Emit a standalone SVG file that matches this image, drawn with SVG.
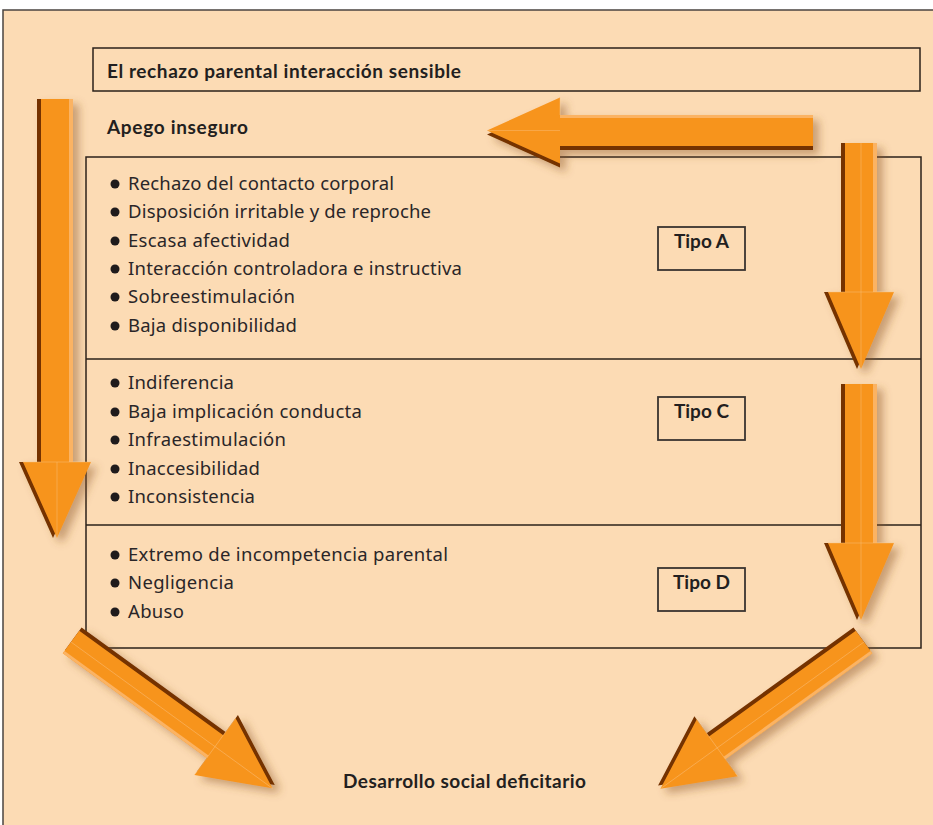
<svg xmlns="http://www.w3.org/2000/svg" width="933" height="825" viewBox="0 0 933 825">
<defs>
<style>
.frame{fill:#FCDBB4;stroke:#4a4440;stroke-width:1.5}
.box{fill:none;stroke:#2b221a;stroke-width:1.5}
.tbox{fill:none;stroke:#3a3430;stroke-width:1.8}
.t{font-family:"Noto Sans","DejaVu Sans",sans-serif;font-size:18.5px;fill:#2a2628;font-variant-ligatures:none}
.b{font-family:Lato,"Noto Sans",sans-serif;font-size:19px;font-weight:bold;fill:#231f20}
.dot{fill:#1f1b1c}
.ao{fill:#F7941E}
.ad{fill:#743300}
.al{fill:#FBB363}
.seam{stroke:#FBC27E;stroke-width:0.8;opacity:0.55;fill:none}
</style>
<filter id="sh" x="-40%" y="-20%" width="180%" height="140%">
<feDropShadow dx="6" dy="5" stdDeviation="4" flood-color="#8a5528" flood-opacity="0.45"/>
</filter>
</defs>
<rect x="0" y="0" width="933" height="825" fill="#ffffff"/>
<rect class="frame" x="3" y="10" width="940" height="830"/>

<g id="node-top">
<rect class="box" x="93" y="48" width="827" height="43"/>
<text class="b" x="107" y="78" textLength="354">El rechazo parental interacción sensible</text>
</g>
<g id="node-apego">
<text class="b" x="107" y="134" textLength="141">Apego inseguro</text>
</g>

<g id="node-main">
<rect class="box" x="86" y="157" width="835" height="491"/>
<line class="box" x1="86" y1="359" x2="921" y2="359"/>
<line class="box" x1="86" y1="525" x2="921" y2="525"/>
</g>

<g id="node-tipoA">
<circle class="dot" cx="115" cy="184" r="4.5"/><text class="t" x="128" y="190" textLength="266">Rechazo del contacto corporal</text>
<circle class="dot" cx="115" cy="212" r="4.5"/><text class="t" x="128" y="218" textLength="303">Disposición irritable y de reproche</text>
<circle class="dot" cx="115" cy="241" r="4.5"/><text class="t" x="128" y="247" textLength="162">Escasa afectividad</text>
<circle class="dot" cx="115" cy="269" r="4.5"/><text class="t" x="128" y="275" textLength="334">Interacción controladora e instructiva</text>
<circle class="dot" cx="115" cy="297" r="4.5"/><text class="t" x="128" y="303" textLength="167">Sobreestimulación</text>
<circle class="dot" cx="115" cy="326" r="4.5"/><text class="t" x="128" y="332" textLength="169">Baja disponibilidad</text>
<rect class="tbox" x="658" y="227" width="87" height="43"/>
<text class="b" x="701.5" y="248" text-anchor="middle">Tipo A</text>
</g>

<g id="node-tipoC">
<circle class="dot" cx="115" cy="383" r="4.5"/><text class="t" x="128" y="389" textLength="106">Indiferencia</text>
<circle class="dot" cx="115" cy="412" r="4.5"/><text class="t" x="128" y="418" textLength="234">Baja implicación conducta</text>
<circle class="dot" cx="115" cy="440" r="4.5"/><text class="t" x="128" y="446" textLength="158">Infraestimulación</text>
<circle class="dot" cx="115" cy="469" r="4.5"/><text class="t" x="128" y="475" textLength="132">Inaccesibilidad</text>
<circle class="dot" cx="115" cy="497" r="4.5"/><text class="t" x="128" y="503" textLength="127">Inconsistencia</text>
<rect class="tbox" x="658" y="397" width="87" height="43"/>
<text class="b" x="701.5" y="418" text-anchor="middle">Tipo C</text>
</g>

<g id="node-tipoD">
<circle class="dot" cx="115" cy="555" r="4.5"/><text class="t" x="128" y="561" textLength="320">Extremo de incompetencia parental</text>
<circle class="dot" cx="115" cy="583" r="4.5"/><text class="t" x="128" y="589" textLength="106">Negligencia</text>
<circle class="dot" cx="115" cy="612" r="4.5"/><text class="t" x="128" y="618" textLength="56">Abuso</text>
<rect class="tbox" x="658" y="568" width="87" height="43"/>
<text class="b" x="701.5" y="589" text-anchor="middle">Tipo D</text>
</g>

<g id="node-desarrollo">
<text class="b" x="464.5" y="788" text-anchor="middle" textLength="243">Desarrollo social deficitario</text>
</g>

<g id="connectors">
<g filter="url(#sh)">
<g id="arrow-left-down" transform="translate(57,99)">
<polygon class="ad" transform="translate(-4,0)" points="-16,0 16,0 16,363 34,363 0,439 -34,363 -16,363"/>
<polygon class="ao" points="-16,0 16,0 16,363 34,363 0,439 -34,363 -16,363"/>
<rect class="al" x="12" y="0" width="4" height="363"/>
<path class="seam" d="M-34,363 L34,363 M0,363 L0,439"/>
</g>
</g>
<g filter="url(#sh)">
<g id="arrow-top-left" transform="translate(813,130.5) rotate(90)">
<polygon class="ad" transform="translate(4,0)" points="-15.5,0 15.5,0 15.5,253 33,253 0,326 -33,253 -15.5,253"/>
<polygon class="ao" points="-15.5,0 15.5,0 15.5,253 33,253 0,326 -33,253 -15.5,253"/>
<rect class="al" x="-15.5" y="0" width="3" height="253"/>
<path class="seam" d="M-33,253 L-15.5,253 M0,253 L0,326"/>
</g>
</g>
<g filter="url(#sh)">
<g id="arrow-right-1" transform="translate(861,143)">
<polygon class="ad" transform="translate(-4,0)" points="-16,0 16,0 16,149 33,149 0,226 -33,149 -16,149"/>
<polygon class="ao" points="-16,0 16,0 16,149 33,149 0,226 -33,149 -16,149"/>
<rect class="al" x="12" y="0" width="4" height="149"/>
<path class="seam" d="M-33,149 L33,149 M0,0 L0,226"/>
</g>
</g>
<g filter="url(#sh)">
<g id="arrow-right-2" transform="translate(861,384)">
<polygon class="ad" transform="translate(-4,0)" points="-16,0 16,0 16,159 33,159 0,236 -33,159 -16,159"/>
<polygon class="ao" points="-16,0 16,0 16,159 33,159 0,236 -33,159 -16,159"/>
<rect class="al" x="12" y="0" width="4" height="159"/>
<path class="seam" d="M-33,159 L33,159 M0,0 L0,236"/>
</g>
</g>
<g filter="url(#sh)">
<g id="arrow-bottom-left" transform="translate(71,642) rotate(-54)">
<polygon class="ad" transform="translate(4,0)" points="-14,0 14,0 14,178 35,178 0,249 -35,178 -14,178"/>
<polygon class="ao" points="-14,0 14,0 14,178 35,178 0,249 -35,178 -14,178"/>
<rect class="al" x="-14" y="0" width="3" height="178"/>
<path class="seam" d="M-35,178 L35,178 M0,0 L0,249"/>
</g>
</g>
<g filter="url(#sh)">
<g id="arrow-bottom-right" transform="translate(864,642) rotate(54.2)">
<polygon class="ad" transform="translate(-4,0)" points="-14,0 14,0 14,181 35,181 0,251 -35,181 -14,181"/>
<polygon class="ao" points="-14,0 14,0 14,181 35,181 0,251 -35,181 -14,181"/>
<rect class="al" x="11" y="0" width="3" height="181"/>
<path class="seam" d="M-35,181 L35,181 M0,0 L0,251"/>
</g>
</g>
</g>
</svg>
